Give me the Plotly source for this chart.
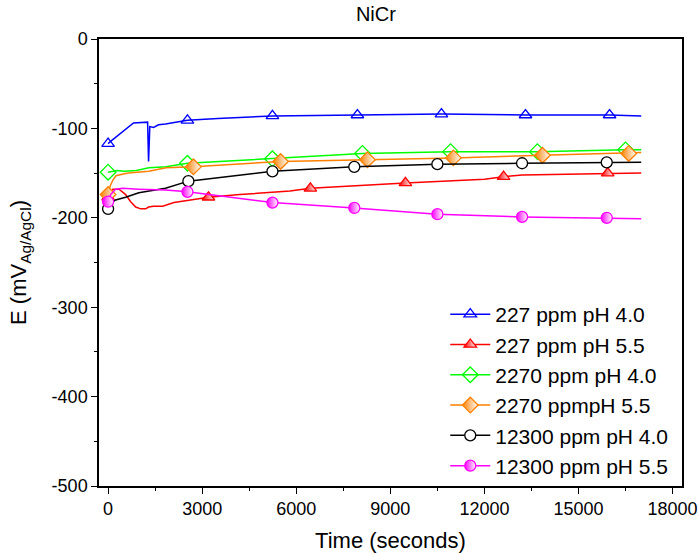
import plotly.graph_objects as go

# ---- data (time in seconds, E in mV vs Ag/AgCl) ----
t_b = [0, 100, 810, 1260, 1290, 1330, 1450, 1610, 1830, 2530, 3500, 5240, 7950, 10630, 13310, 15990, 17000]
e_b = [-117, -114, -94, -93, -137, -98, -99, -96, -95, -91, -89, -86, -85, -84, -85, -85, -86]
m_b = [0, 2530, 5240, 7950, 10630, 13310, 15990]

t_r = [0, 150, 350, 560, 720, 880, 1040, 1200, 1290, 1450, 1740, 1830, 2100, 2630, 3200, 4200, 5800, 6450, 9480, 12000, 12610, 13200, 15930, 17000]
e_r = [-177, -168, -168, -174, -182, -188, -190, -190, -188, -187, -187, -186, -183, -180, -177, -174, -170, -167, -161, -157, -154, -152, -150, -150]
m_r = [0, 3200, 6450, 9480, 12610, 15930]

t_g = [0, 150, 300, 500, 900, 1300, 1850, 2530, 5240, 8110, 10920, 13690, 16500, 17000]
e_g = [-149, -148, -147, -148, -147, -144, -143, -139, -134, -128, -126, -126, -124, -124]
m_g = [0, 2530, 5240, 8110, 10920, 13690, 16500]

t_o = [0, 60, 150, 250, 480, 650, 1300, 1850, 2720, 5500, 8270, 11010, 13850, 16600, 17000]
e_o = [-174, -165, -158, -153, -151, -150, -148, -144, -143, -137, -135, -133, -130, -128, -127]
m_o = [0, 2720, 5500, 8270, 11010, 13850, 16600]

t_k = [0, 80, 240, 560, 980, 1830, 2560, 5240, 7850, 10500, 13200, 15900, 17000]
e_k = [-190, -184, -180, -177, -172, -167, -159, -148, -143, -140, -139, -138, -138]
m_k = [0, 2560, 5240, 7850, 10500, 13200, 15900]

t_m = [0, 80, 240, 460, 980, 1830, 2530, 5240, 7850, 10500, 13200, 15900, 17000]
e_m = [-182, -174, -168, -167, -168, -169, -171, -183, -189, -196, -199, -200, -201]
m_m = [0, 2530, 5240, 7850, 10500, 13200, 15900]

names = ["227 ppm pH 4.0", "227 ppm pH 5.5", "2270 ppm pH 4.0",
         "2270 ppmpH 5.5", "12300 ppm pH 4.0", "12300 ppm pH 5.5"]

x_ticks = [0, 3000, 6000, 9000, 12000, 15000, 18000]
y_ticks = [0, -100, -200, -300, -400, -500]

series = [
    (t_b, e_b, m_b, "#0000FF", dict(symbol="triangle-up-open", size=11, color="#0000FF", line=dict(width=1.3))),
    (t_r, e_r, m_r, "#FF0000", dict(symbol="triangle-up", size=11, color="#FF0000", line=dict(width=1.3, color="#FF0000"),
                                    gradient=dict(type="horizontal", color="white"))),
    (t_g, e_g, m_g, "#00FF00", dict(symbol="diamond-open", size=12, color="#00FF00", line=dict(width=1.3))),
    (t_o, e_o, m_o, "#FF8000", dict(symbol="diamond", size=12, color="#FF8000", line=dict(width=1.3, color="#FF8000"),
                                    gradient=dict(type="horizontal", color="white"))),
    (t_k, e_k, m_k, "#000000", dict(symbol="circle", size=11, color="white", line=dict(width=1.3, color="#000000"))),
    (t_m, e_m, m_m, "#FF00FF", dict(symbol="circle", size=11, color="#FF00FF", line=dict(width=1.3, color="#FF00FF"),
                                    gradient=dict(type="horizontal", color="white"))),
]

fig = go.Figure()
for (t, e, mk, col, marker), name in zip(series, names):
    fig.add_trace(go.Scatter(x=t, y=e, mode="lines", line=dict(color=col, width=1.5),
                             showlegend=False, hoverinfo="skip"))
    mx = [tt for tt in t if tt in mk]
    my = [ee for tt, ee in zip(t, e) if tt in mk]
    fig.add_trace(go.Scatter(x=mx, y=my, mode="markers", marker=marker, showlegend=False))
    fig.add_trace(go.Scatter(x=[None], y=[None], mode="lines+markers", name=name,
                             line=dict(color=col, width=1.5), marker=marker))

font_fam = "Liberation Sans, Arial, sans-serif"
axis_common = dict(showline=True, linecolor="black", linewidth=1.5, mirror=True,
                   ticks="outside", ticklen=6, tickwidth=1.2, tickcolor="black",
                   showgrid=False, zeroline=False, automargin=False,
                   tickfont=dict(size=18, color="black", family=font_fam),
                   minor=dict(ticks="outside", ticklen=3, tickwidth=1.2, tickcolor="black"))

fig.update_layout(
    width=699, height=553,
    margin=dict(l=99, r=17, t=39, b=67),
    paper_bgcolor="white", plot_bgcolor="white",
    font=dict(family=font_fam, color="black"),
    title=dict(text="NiCr", x=0.475, xref="paper", y=0.975, yref="container",
               xanchor="center", yanchor="middle", font=dict(size=20, color="black", family=font_fam)),
    xaxis=dict(range=[-290, 18300], tickvals=x_ticks, ticktext=[str(v) for v in x_ticks],
               title=dict(text="Time (seconds)", font=dict(size=22, family=font_fam), standoff=14), **axis_common),
    yaxis=dict(range=[-500, 0], tickvals=y_ticks, ticktext=[str(v) for v in y_ticks],
               title=dict(text="E (mV<sub>Ag/AgCl</sub>)", font=dict(size=22, family=font_fam), standoff=19), **axis_common),
    legend=dict(x=0.985, y=0.0, xanchor="right", yanchor="bottom", bgcolor="rgba(0,0,0,0)",
                font=dict(size=21, color="black", family=font_fam), tracegroupgap=0, itemwidth=40),
)
fig.update_xaxes(minor=dict(dtick=1500, tick0=0))
fig.update_yaxes(minor=dict(dtick=50, tick0=0))

fig.write_html("out.html")
